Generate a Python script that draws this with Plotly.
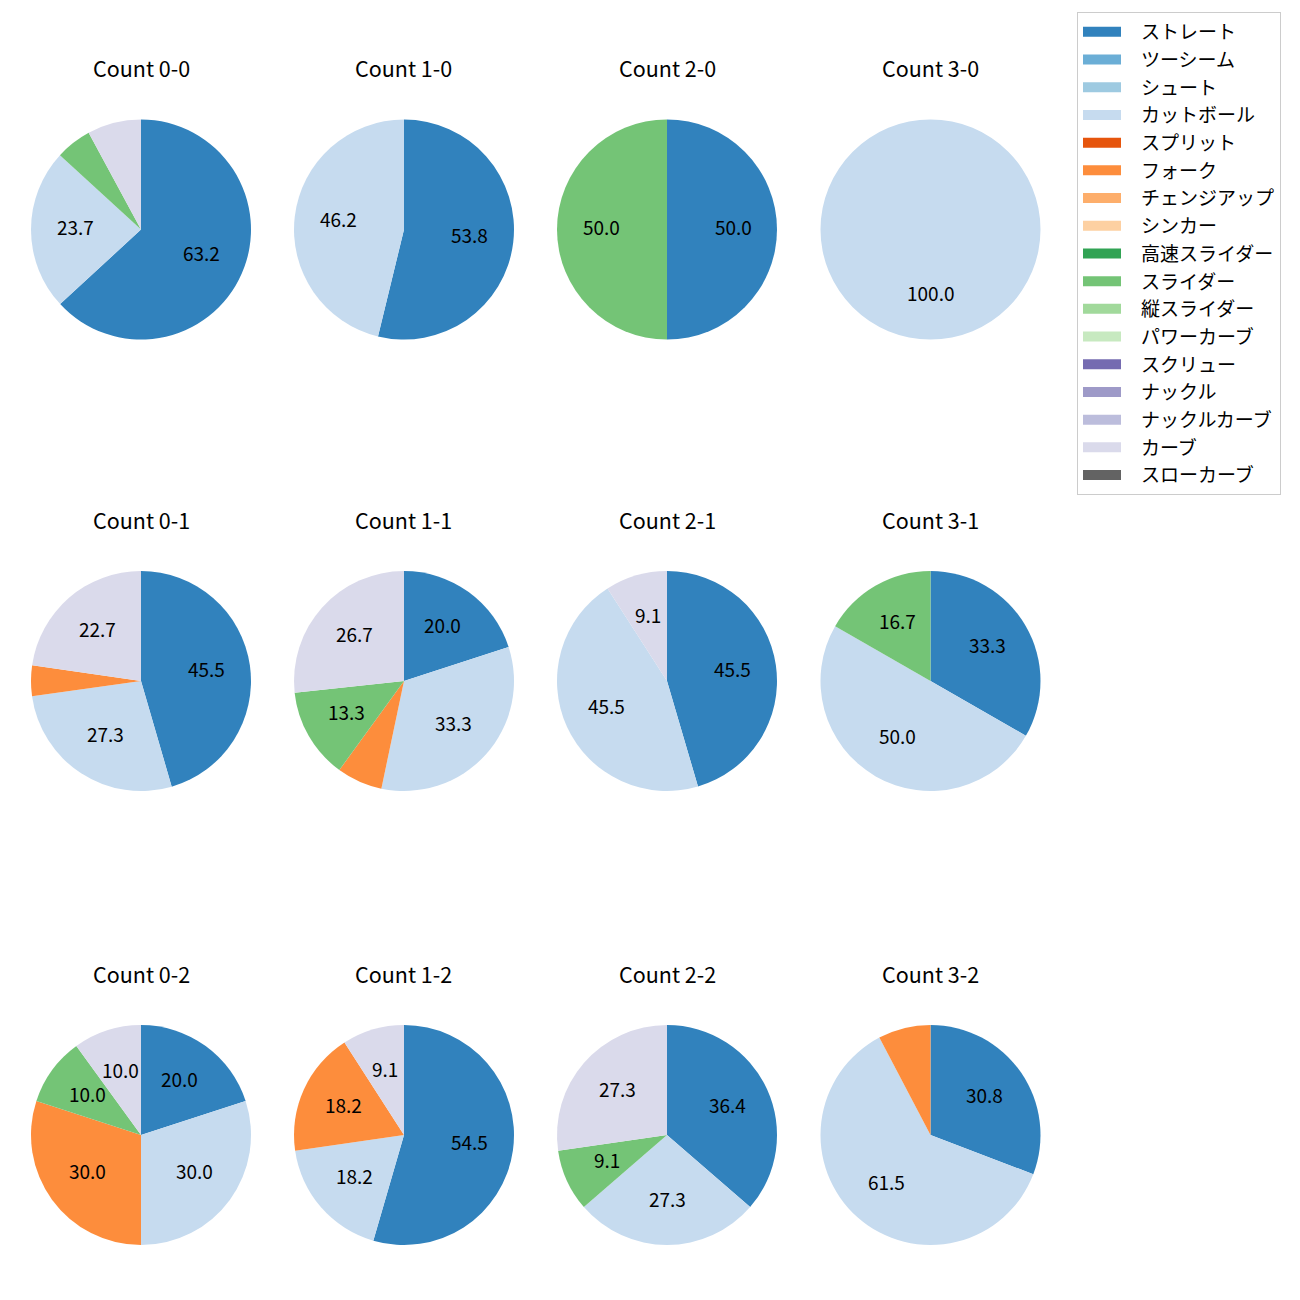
import math
import plotly.graph_objects as go

# ---- data ----
pitch_types = ["ストレート", "ツーシーム", "シュート", "カットボール", "スプリット", "フォーク",
               "チェンジアップ", "シンカー", "高速スライダー", "スライダー", "縦スライダー",
               "パワーカーブ", "スクリュー", "ナックル", "ナックルカーブ", "カーブ", "スローカーブ"]

count_labels = ["0-0", "1-0", "2-0", "3-0",
                "0-1", "1-1", "2-1", "3-1",
                "0-2", "1-2", "2-2", "3-2"]

# percentages per pitch type (same order as pitch_types)
count_0_0 = [63.2, 0, 0, 23.7, 0, 0, 0, 0, 0, 5.3, 0, 0, 0, 0, 0, 7.9, 0]
count_1_0 = [53.8, 0, 0, 46.2, 0, 0, 0, 0, 0, 0, 0, 0, 0, 0, 0, 0, 0]
count_2_0 = [50.0, 0, 0, 0, 0, 0, 0, 0, 0, 50.0, 0, 0, 0, 0, 0, 0, 0]
count_3_0 = [0, 0, 0, 100.0, 0, 0, 0, 0, 0, 0, 0, 0, 0, 0, 0, 0, 0]
count_0_1 = [45.5, 0, 0, 27.3, 0, 4.5, 0, 0, 0, 0, 0, 0, 0, 0, 0, 22.7, 0]
count_1_1 = [20.0, 0, 0, 33.3, 0, 6.7, 0, 0, 0, 13.3, 0, 0, 0, 0, 0, 26.7, 0]
count_2_1 = [45.5, 0, 0, 45.5, 0, 0, 0, 0, 0, 0, 0, 0, 0, 0, 0, 9.1, 0]
count_3_1 = [33.3, 0, 0, 50.0, 0, 0, 0, 0, 0, 16.7, 0, 0, 0, 0, 0, 0, 0]
count_0_2 = [20.0, 0, 0, 30.0, 0, 30.0, 0, 0, 0, 10.0, 0, 0, 0, 0, 0, 10.0, 0]
count_1_2 = [54.5, 0, 0, 18.2, 0, 18.2, 0, 0, 0, 0, 0, 0, 0, 0, 0, 9.1, 0]
count_2_2 = [36.4, 0, 0, 27.3, 0, 0, 0, 0, 0, 9.1, 0, 0, 0, 0, 0, 27.3, 0]
count_3_2 = [30.8, 0, 0, 61.5, 0, 7.7, 0, 0, 0, 0, 0, 0, 0, 0, 0, 0, 0]

all_counts = [count_0_0, count_1_0, count_2_0, count_3_0,
              count_0_1, count_1_1, count_2_1, count_3_1,
              count_0_2, count_1_2, count_2_2, count_3_2]

# ---- styles ----
colors = ["#3182bd", "#6baed6", "#9ecae1", "#c6dbef", "#e6550d", "#fd8d3c",
          "#fdae6b", "#fdd0a2", "#31a354", "#74c476", "#a1d99b", "#c7e9c0",
          "#756bb1", "#9e9ac8", "#bcbddc", "#dadaeb", "#636363"]

W = H = 1300
FONT = "Noto Sans CJK JP"
col_centers = [141, 404, 667, 930.5]
row_centers = [229.5, 681, 1135]
R = 110
LABEL_MIN = 8.0

fig = go.Figure()
annotations = []

for idx, vals in enumerate(all_counts):
    r_i, c_i = divmod(idx, 4)
    cx, cy = col_centers[c_i], row_centers[r_i]
    labels = [p for p, v in zip(pitch_types, vals) if v > 0]
    values = [v for v in vals if v > 0]
    cols = [colors[pitch_types.index(p)] for p in labels]
    fig.add_trace(go.Pie(
        labels=labels, values=values, sort=False, direction="clockwise", rotation=0,
        marker=dict(colors=cols, line=dict(width=0)),
        textinfo="none", hoverinfo="label+percent", showlegend=False,
        domain=dict(x=[(cx - R) / W, (cx + R) / W], y=[1 - (cy + R) / H, 1 - (cy - R) / H]),
    ))
    total = sum(values)
    cum = 0.0
    for v in values:
        frac = (cum + v / 2) / total
        cum += v
        if v < LABEL_MIN:
            continue
        ang = math.radians(90 - 360 * frac)
        px = cx + 0.6 * R * math.cos(ang)
        py = cy - 0.6 * R * math.sin(ang)
        annotations.append(dict(x=px / W, y=1 - py / H, xref="paper", yref="paper",
                                text=f"{v:.1f}", showarrow=False, xanchor="center", yanchor="middle",
                                yshift=3,
                                font=dict(family=FONT, size=19, color="black")))
    annotations.append(dict(x=cx / W, y=1 - (cy - 162) / H, xref="paper", yref="paper",
                            text=f"Count {count_labels[idx]}", showarrow=False,
                            xanchor="center", yanchor="middle",
                            font=dict(family=FONT, size=21.5, color="black")))

# legend entries
for p, c in zip(pitch_types, colors):
    fig.add_trace(go.Scatter(x=[None], y=[None], mode="lines", name=p,
                             line=dict(color=c, width=10, dash="38px,300px"), showlegend=True))

fig.update_layout(
    width=W, height=H, autosize=False,
    margin=dict(l=0, r=0, t=0, b=0),
    paper_bgcolor="white", plot_bgcolor="white",
    font=dict(family=FONT, color="black"),
    xaxis=dict(visible=False), yaxis=dict(visible=False),
    annotations=annotations,
    legend=dict(x=1077 / W, y=1 - 12 / H, xanchor="left", yanchor="top",
                bgcolor="rgba(255,255,255,0.8)", bordercolor="#cccccc", borderwidth=1,
                font=dict(family=FONT, size=19, color="black"),
                itemwidth=53, traceorder="normal"),
)

fig.write_html("out.html", post_script="document.body.style.margin='0';",
               config={"displayModeBar": False})
